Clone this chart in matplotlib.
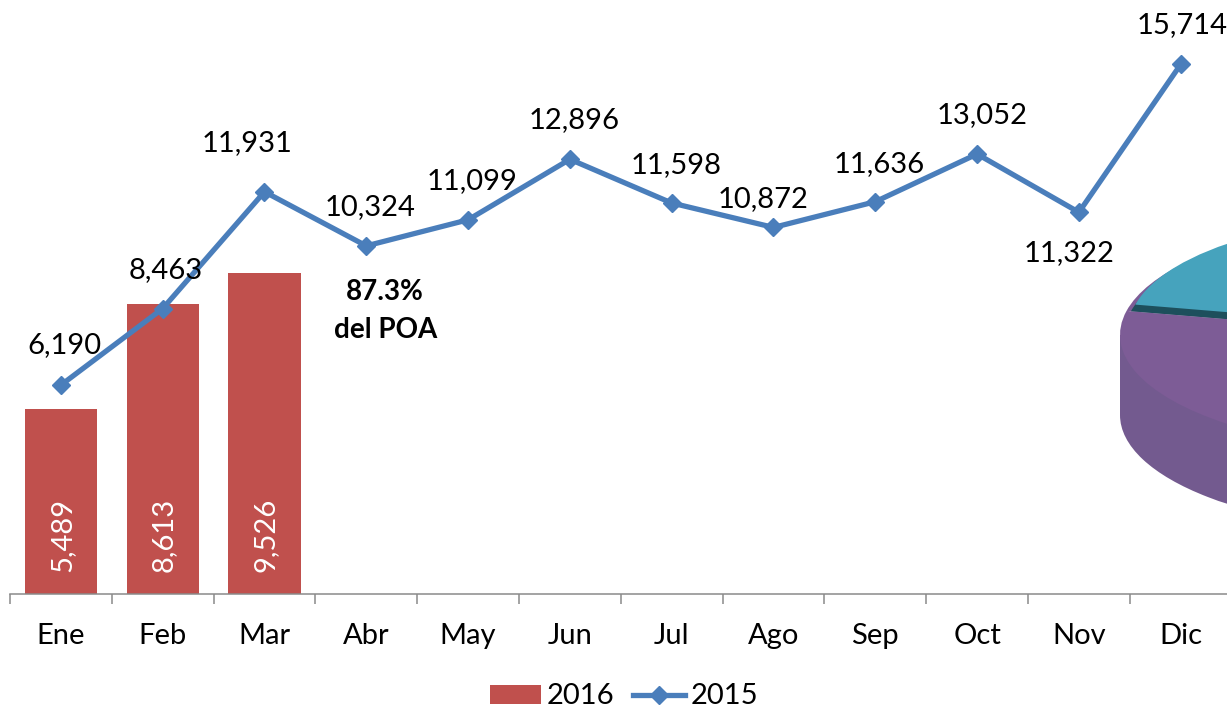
import matplotlib
matplotlib.use("Agg")
import matplotlib.pyplot as plt
from matplotlib.patches import Rectangle

months = ["Ene", "Feb", "Mar", "Abr", "May", "Jun", "Jul", "Ago", "Sep", "Oct", "Nov", "Dic"]
values_2015 = [6190, 8463, 11931, 10324, 11099, 12896, 11598, 10872, 11636, 13052, 11322, 15714]
values_2016 = [5489, 8613, 9526]
pie_shares = [168, 132, 60]
annotation = "87.3%\ndel POA"

label_offsets = [(4, 40), (3, 39), (-17, 49), (4, 39), (4, 39), (4, 39),
                 (4, 38), (-10, 28), (4, 38), (5, 39), (-10, -41), (1, 39)]

RED = "#c0504d"
BLUE = "#4a7ebb"
W, H = 1227, 709
plt.rcParams["font.family"] = ["Lato", "DejaVu Sans"]
FS = 21

fig = plt.figure(figsize=(W / 100, H / 100), dpi=100, facecolor="white")

# --- 3D pie fragment at the right edge (squashed pie in its own axes)
CX, CY, A, B, DEPTH = 1420, 335, 300, 116, 80
pa = fig.add_axes([0, 0, 1, 1], zorder=0)
pa.pie([1], colors=["#735a8f"], center=(0, -DEPTH / B), radius=1)
pa.add_patch(Rectangle((-1, -DEPTH / B), 2, DEPTH / B, color="#735a8f", lw=0))
w1, _ = pa.pie(pie_shares[1:], colors=["#7d5c96", "#7d5c96"], startangle=pie_shares[0],
               center=(0, 0), radius=1, counterclock=True)
w0, _ = pa.pie(pie_shares[:1] + [sum(pie_shares[1:])], colors=["#1d4f5c", "none"], startangle=0,
               center=(0, 0), radius=0.985)
w2, _ = pa.pie(pie_shares[:1] + [sum(pie_shares[1:])], colors=["#46a3bd", "none"], startangle=0,
               center=(0, 7 / B), radius=0.97)
pa.set_aspect("auto")
pa.set_xlim((0 - CX) / A, (W - CX) / A)
pa.set_ylim((CY - H) / B, CY / B)
pa.axis("off")

# --- main chart
left, base, unit = 10, 593.5, 0.03367
ax = fig.add_axes([left / W, (H - base) / H, 1221.6 / W, base / H], zorder=1)
ax.patch.set_alpha(0)
ax.set_xlim(-0.5, 11.5)
ax.set_ylim(0, base / unit)
x = list(range(12))

bars = ax.bar(x[:len(values_2016)], values_2016, width=0.71, color=RED, label="2016", zorder=2)
line, = ax.plot(x, values_2015, color=BLUE, lw=3.8, marker="D", ms=9.5, label="2015",
                solid_joinstyle="round", clip_on=False, zorder=3)

for xi, v, (dx, dy) in zip(x, values_2015, label_offsets):
    ax.annotate(f"{v:,}", (xi, v), xytext=(dx, dy), textcoords="offset pixels",
                ha="center", va="center", fontsize=FS, color="black", annotation_clip=False, zorder=4)
for xi, v in zip(x, values_2016):
    ax.annotate(f"{v:,}", (xi, 0), xytext=(1, 59), textcoords="offset pixels", rotation=90,
                ha="center", va="center", fontsize=FS, color="white", zorder=4)
ax.annotate(annotation, (3, values_2015[3]), xytext=(19, -65), textcoords="offset pixels",
            ha="center", va="center", fontsize=20, fontweight="bold", color="black", linespacing=1.55)

for s in ["top", "left", "right"]:
    ax.spines[s].set_visible(False)
ax.spines["bottom"].set_color("#8a8a8a")
ax.spines["bottom"].set_linewidth(1.1)
ax.set_yticks([])
ax.set_xticks(x)
ax.set_xticklabels(months, fontsize=FS)
ax.tick_params(axis="x", which="major", length=0, pad=21)
ax.set_xticks([i - 0.5 for i in range(13)], minor=True)
ax.tick_params(axis="x", which="minor", length=7.5, width=1.1, color="#8a8a8a")

fig.legend(handles=[bars, line], labels=["2016", "2015"], ncol=2, frameon=False, fontsize=FS,
           loc="center", bbox_to_anchor=(624 / W, (H - 696.5) / H), handlelength=1.75,
           handleheight=0.62, handletextpad=0.2, columnspacing=0.65, borderpad=0, borderaxespad=0)

fig.savefig("out.png", dpi=100)
